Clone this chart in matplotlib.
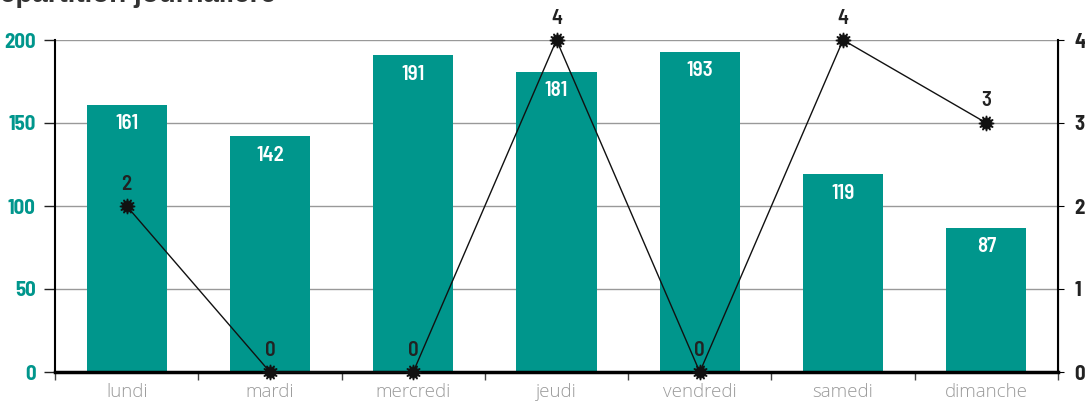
import matplotlib
matplotlib.use("Agg")
import matplotlib.pyplot as plt
import numpy as np

days = ["lundi", "mardi", "mercredi", "jeudi", "vendredi", "samedi", "dimanche"]
bar_values = [161, 142, 191, 181, 193, 119, 87]
line_values = [2, 0, 0, 4, 0, 4, 3]
left_ticks = [0, 50, 100, 150, 200]
right_ticks = [0, 1, 2, 3, 4]

teal = "#00968c"
narrow = ["Barlow Semi Condensed", "Barlow Condensed", "Asap Condensed", "DejaVu Sans"]

fig = plt.figure(figsize=(10.85, 4.03), dpi=100)
ax = fig.add_axes([55 / 1085, 1 - 372 / 403, 1003 / 1085, 332 / 403])
ax2 = ax.twinx()

x = np.arange(len(days))
ax.bar(x, bar_values, width=0.56, color=teal, zorder=2)
for xi, v in zip(x, bar_values):
    ax.annotate(str(v), (xi, v), xytext=(0, -7), textcoords="offset points",
                ha="center", va="top", color="white", fontsize=15,
                fontweight=600, family=narrow)

ax.set_xlim(-0.5, len(days) - 0.5)
ax.set_ylim(0, 200)
ax.set_yticks(left_ticks)
ax.set_yticklabels([str(t) for t in left_ticks], color=teal, fontsize=15,
                   fontweight=700, family=narrow)
ax.tick_params(axis="y", length=8, width=1, pad=6, colors="#222222", labelcolor=teal)
ax.yaxis.grid(True, color="#999999", linewidth=1)
ax.set_axisbelow(True)

ax.set_xticks(x)
ax.set_xticklabels(days, color="#9a9a9a", fontsize=13.5, fontweight=300,
                   family=["Open Sans", "Lato", "DejaVu Sans"])
ax.tick_params(axis="x", which="major", length=0, pad=8)
ax.set_xticks(np.arange(-0.5, len(days)), minor=True)
ax.tick_params(axis="x", which="minor", length=6, width=1, color="#444444")

ax.spines["top"].set_visible(False)
ax.spines["left"].set_linewidth(1.5)
ax.spines["bottom"].set_linewidth(2.5)
ax.spines["bottom"].set_zorder(5)

ax2.plot(x, line_values, color="#111111", linewidth=1, marker=(12, 1, 0),
         markersize=11, zorder=4, clip_on=False)
for xi, v in zip(x, line_values):
    ax2.annotate(str(v), (xi, v), xytext=(0, 9), textcoords="offset points",
                 ha="center", va="bottom", color="#222222", fontsize=15,
                 fontweight=600, family=narrow)
ax2.set_ylim(0, 4)
ax2.set_yticks(right_ticks)
ax2.set_yticklabels([str(t) for t in right_ticks], color="#222222", fontsize=15,
                    fontweight=700, family=narrow)
ax2.tick_params(axis="y", length=4, pad=8)
ax2.spines["top"].set_visible(False)
ax2.spines["left"].set_visible(False)
ax2.spines["bottom"].set_visible(False)
ax2.spines["right"].set_linewidth(1.5)

fig.text(-0.018, 1.012, "Répartition journalière", fontsize=20, fontweight="bold",
         color="#333333", va="center", ha="left", family=["Liberation Sans", "DejaVu Sans"])

fig.savefig("out.png", dpi=100)
